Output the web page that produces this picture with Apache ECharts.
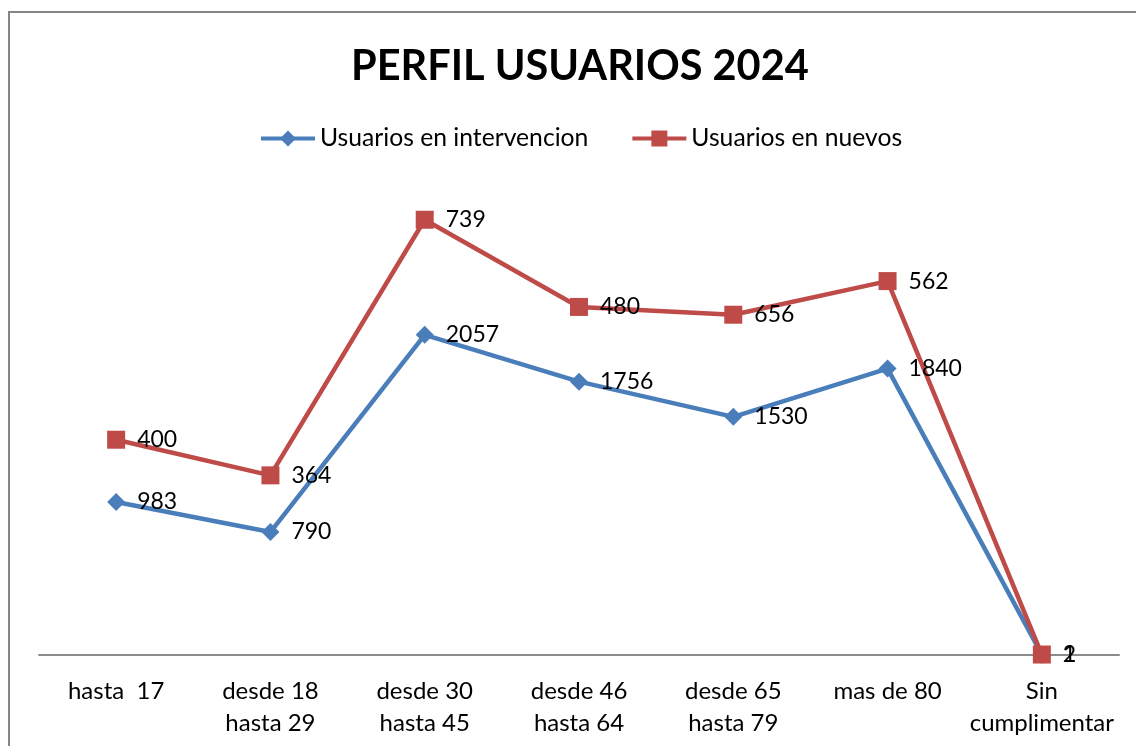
<!DOCTYPE html>
<html>
<head>
<meta charset="utf-8">
<script src="https://cdn.jsdelivr.net/npm/echarts@6/dist/echarts.min.js"></script>
<style>
  html, body { margin: 0; padding: 0; background: #fff; }
  #chart { width: 1136px; height: 746px; }
</style>
</head>
<body>
<div id="chart"></div>
<script>
// categorias (eje x)
const categories = ['hasta  17', 'desde 18\nhasta 29', 'desde 30\nhasta 45', 'desde 46\nhasta 64',
  'desde 65\nhasta 79', 'mas de 80', 'Sin\ncumplimentar'];
// series apiladas
const intervencion = [983, 790, 2057, 1756, 1530, 1840, 2];
const nuevos = [400, 364, 739, 480, 656, 562, 1];

const chart = echarts.init(document.getElementById('chart'));

const labelStyle = {
  show: true,
  position: 'right',
  distance: 12,
  color: '#000',
  fontSize: 23,
  fontFamily: 'Lato'
};

const option = {
  animation: false,
  backgroundColor: '#fff',
  textStyle: { fontFamily: 'Lato' },
  title: {
    text: 'PERFIL USUARIOS 2024',
    left: 346,
    top: 41,
    textStyle: { fontSize: 41.5, fontWeight: 'bold', color: '#000', fontFamily: 'Lato' }
  },
  legend: {
    top: 121,
    left: 254,
    itemGap: 42,
    itemWidth: 54,
    itemHeight: 20,
    lineStyle: { width: 4 },
    textStyle: { fontSize: 24.7, color: '#000', fontFamily: 'Lato' },
    data: ['Usuarios en intervencion', 'Usuarios en nuevos']
  },
  grid: { left: 39, right: 17, top: 188, bottom: 91, outerBoundsMode: 'none' },
  xAxis: {
    type: 'category',
    data: categories,
    boundaryGap: true,
    axisLine: { lineStyle: { color: '#8c8c8c', width: 2 } },
    axisTick: { show: false },
    axisLabel: { color: '#000', fontSize: 24, lineHeight: 32, margin: 20, fontFamily: 'Lato', interval: 0 }
  },
  yAxis: {
    type: 'value',
    min: 0,
    max: 3000,
    show: false,
    splitLine: { show: false }
  },
  graphic: [{
    type: 'rect',
    shape: { x: 9, y: 12, width: 1200, height: 800 },
    style: { fill: 'none', stroke: '#868686', lineWidth: 2 },
    silent: true
  }],
  series: [{
    name: 'Usuarios en intervencion',
    type: 'line',
    stack: 'total',
    data: intervencion,
    symbol: 'diamond',
    symbolSize: 18,
    color: '#4a7ebb',
    lineStyle: { width: 4.5, color: '#4a7ebb' },
    itemStyle: { color: '#4a7ebb' },
    label: labelStyle
  }, {
    name: 'Usuarios en nuevos',
    type: 'line',
    stack: 'total',
    data: nuevos,
    symbol: 'rect',
    symbolSize: 18,
    color: '#be4b48',
    lineStyle: { width: 4.5, color: '#be4b48' },
    itemStyle: { color: '#be4b48' },
    label: labelStyle
  }]
};

chart.setOption(option);
</script>
</body>
</html>
